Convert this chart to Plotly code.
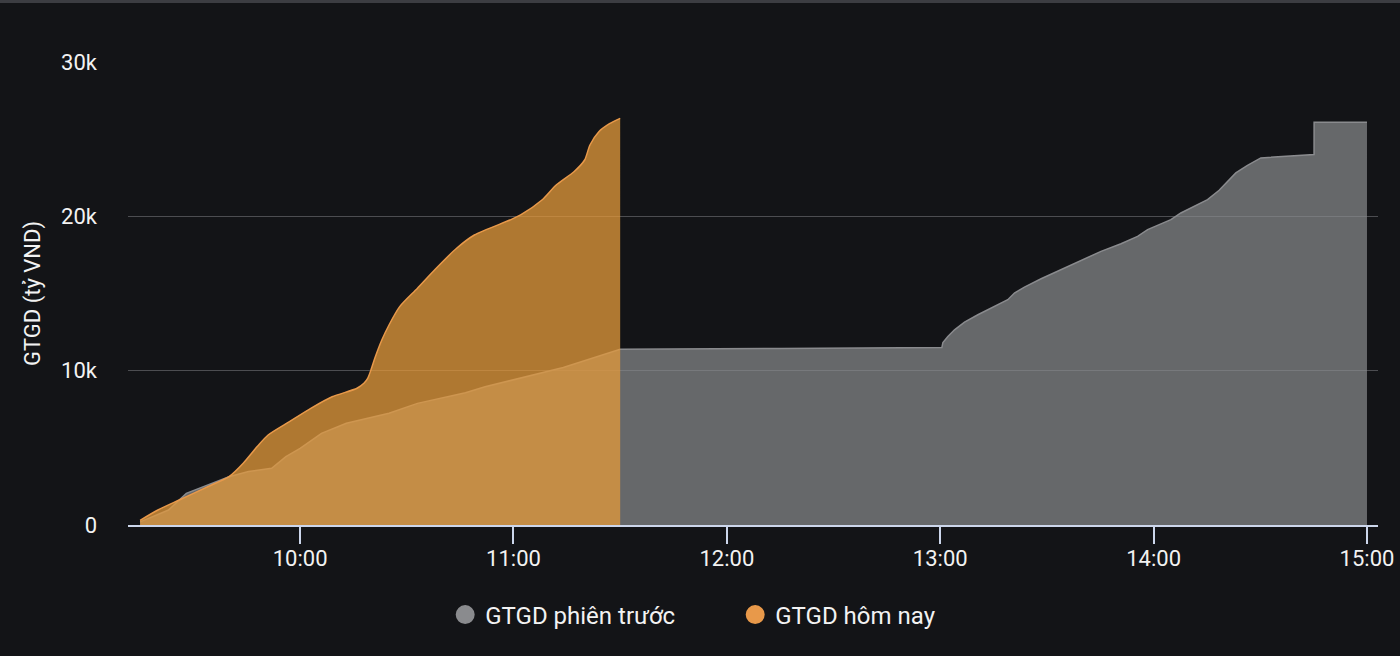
import plotly.graph_objects as go

DAY = "2024-01-01 "

# GTGD hôm nay (today) – cumulative trading value, tỷ VND
today_times = ["09:15", "09:20", "09:26", "09:34", "09:40", "09:44", "09:48", "09:51",
               "09:57", "10:03", "10:09", "10:16", "10:18", "10:19", "10:20", "10:21",
               "10:23", "10:25", "10:28", "10:33", "10:38", "10:44", "10:49", "10:59",
               "11:02", "11:08", "11:12", "11:17", "11:20", "11:21:30", "11:24", "11:27",
               "11:30"]
today_values = [300, 970, 1620, 2480, 3130, 4000, 5100, 5830,
                6700, 7560, 8310, 8860, 9200, 9500, 10100, 10800,
                12000, 12960, 14150, 15340, 16570, 17930, 18790, 19760,
                20090, 21060, 22030, 22890, 23650, 24620, 25480, 26000,
                26350]

# GTGD phiên trước (previous session)
prev_times = ["09:15", "09:23", "09:28", "09:34", "09:40", "09:45:30", "09:52", "09:56",
              "10:00", "10:06", "10:13", "10:25", "10:33", "10:46:30", "10:52", "11:14",
              "11:30", "12:15", "13:00:28", "13:00:45", "13:02:09", "13:04:01", "13:06:50",
              "13:10:35", "13:14:19", "13:19:00", "13:20:52", "13:23:41", "13:28:22",
              "13:33:59", "13:39:36", "13:45:13", "13:50:50", "13:55:30", "13:58:19",
              "14:02:04", "14:04:52", "14:07:40", "14:11:25", "14:15:10", "14:18:26",
              "14:20:47", "14:23:07", "14:26:24", "14:30:09", "14:45:07", "14:45:08",
              "15:00"]
prev_values = [200, 970, 2050, 2590, 3130, 3460, 3670, 4430,
               4970, 5940, 6590, 7240, 7880, 8570, 8960, 10200,
               11380, 11440, 11503, 11827, 12216, 12649, 13146,
               13622, 14054, 14595, 15027, 15416, 15957,
               16541, 17146, 17730, 18227, 18703, 19135,
               19524, 19784, 20216, 20649, 21081, 21686,
               22270, 22811, 23308, 23784, 24000, 26100,
               26100]

y_tick_vals = [0, 10000, 20000, 30000]
y_tick_text = ["0", "10k", "20k", "30k"]
series_names = ["GTGD phiên trước", "GTGD hôm nay"]
series_colors = ["#8a8b8e", "#e8994a"]

BG = "#131417"
TXT = "#f2f2f2"
AXIS = "#ccd6eb"

fig = go.Figure()

fig.add_trace(go.Scatter(
    x=[DAY + t for t in prev_times], y=prev_values, name=series_names[0],
    mode="lines", fill="tozeroy", fillcolor="rgba(138,139,142,0.7)",
    line=dict(color=series_colors[0], width=1.5, shape="linear"),
    showlegend=False))

fig.add_trace(go.Scatter(
    x=[DAY + t for t in today_times], y=today_values, name=series_names[1],
    mode="lines", fill="tozeroy", fillcolor="rgba(228,153,59,0.75)",
    line=dict(color=series_colors[1], width=1.5, shape="spline", smoothing=0.7),
    showlegend=False))

# legend entries with circle markers
for nm, col in zip(series_names, series_colors):
    fig.add_trace(go.Scatter(x=[None], y=[None], mode="markers", name=nm,
                             marker=dict(size=20, color=col, symbol="circle",
                                         line=dict(color=col, width=3)),
                             showlegend=True))

fig.update_layout(
    width=1400, height=656,
    paper_bgcolor=BG, plot_bgcolor=BG,
    margin=dict(l=128, r=22, t=62, b=131),
    font=dict(family="Roboto", size=22, color=TXT),
    showlegend=True,
    legend=dict(orientation="h", xref="container", yref="container",
                x=0.318, xanchor="left", y=0.0625, yanchor="middle",
                font=dict(size=24, color=TXT), bgcolor="rgba(0,0,0,0)",
                entrywidth=245, entrywidthmode="pixels", itemsizing="trace"),
    hovermode=False,
    xaxis=dict(
        type="date", automargin=False,
        range=[DAY + "09:11:36", DAY + "15:03:06"],
        tick0=DAY + "10:00", dtick=3600000, tickformat="%H:%M",
        showgrid=False, zeroline=False,
        showline=True, linecolor=AXIS, linewidth=2,
        ticks="outside", ticklen=17, tickwidth=2, tickcolor=AXIS,
        ticklabelstandoff=-4,
        tickfont=dict(size=22, color=TXT),
        layer="above traces",
    ),
    yaxis=dict(
        range=[0, 30000], automargin=False,
        tickvals=y_tick_vals, ticktext=y_tick_text,
        showgrid=True, gridcolor="#4c4d51", gridwidth=1,
        zeroline=False, showline=False,
        ticklabelstandoff=30,
        tickfont=dict(size=22, color=TXT),
        title=dict(text="GTGD (tỷ VND)", font=dict(size=22, color=TXT), standoff=14),
    ),
    shapes=[dict(type="rect", xref="paper", yref="paper",
                 x0=-128 / 1250, x1=1272 / 1250,
                 y0=1 + 59 / 463, y1=1 + 62 / 463,
                 fillcolor="#3c3d42", line=dict(width=0), layer="below")],
)

fig.write_html("out.html")
